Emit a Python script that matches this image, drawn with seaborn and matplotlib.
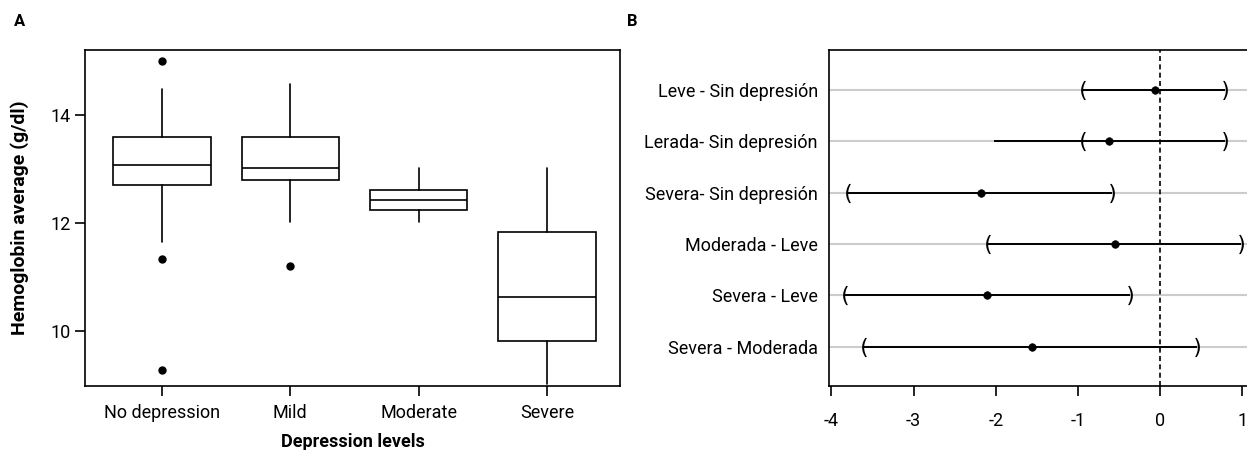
#Hemoglobin vs depression levels - two panel figure
#A: boxplots per depression level, B: pairwise differences with intervals

#-------------------------------------------IMPORTS----------------------------------------------------------------
import matplotlib.pyplot as plt
import pandas as pd
import seaborn as sns
from matplotlib import font_manager

#-------------------------------------------DATA-------------------------------------------------------------------
# panel A - box stats
levels = ['No depression', 'Mild', 'Moderate', 'Severe']
whislo = [11.66, 12.03, 12.03, 9.03]
q1 = [12.71, 12.79, 12.25, 9.83]
med = [13.07, 13.02, 12.42, 10.63]
q3 = [13.59, 13.59, 12.62, 11.84]
whishi = [14.47, 14.58, 13.02, 13.02]
fliers = [[15.0, 11.34, 9.28], [11.21], [], []]

# panel B - pairwise differences and their intervals
pairs = ['Leve - Sin depresión', 'Lerada- Sin depresión', 'Severa- Sin depresión',
         'Moderada - Leve', 'Severa - Leve', 'Severa - Moderada']
diff = [-0.06, -0.62, -2.18, -0.55, -2.11, -1.56]
lower = [-0.94, -0.94, -3.80, -2.09, -3.84, -3.61]
upper = [0.79, 0.79, -0.58, 0.99, -0.37, 0.45]
line_start = [-0.94, -2.02, -3.80, -2.09, -3.84, -3.61]  # row 2 line runs past its bracket

#-------------------------------------------STYLE------------------------------------------------------------------
sns.set_style('ticks')
installed = {f.name for f in font_manager.fontManager.ttflist}
fam = 'Liberation Sans Narrow' if 'Liberation Sans Narrow' in installed else 'Roboto'
plt.rcParams['font.family'] = [fam, 'DejaVu Sans']
plt.rcParams['axes.unicode_minus'] = False
plt.rcParams['axes.linewidth'] = 1.2
plt.rcParams['axes.edgecolor'] = 'black'
plt.rcParams['text.color'] = 'black'
plt.rcParams['axes.labelcolor'] = 'black'
plt.rcParams['xtick.color'] = 'black'
plt.rcParams['ytick.color'] = 'black'
plt.rcParams['xtick.major.width'] = 1.2
plt.rcParams['ytick.major.width'] = 1.2

fig = plt.figure(figsize=(12.47, 4.5), dpi=100)
axA = fig.add_axes([0.0682, 0.1422, 0.4290, 0.7467])
axB = fig.add_axes([0.6648, 0.1422, 0.3352, 0.7467])

#-------------------------------------------PANEL-A----------------------------------------------------------------
stats = []
for i in range(len(levels)):
    stats.append({'label': levels[i], 'whislo': whislo[i], 'q1': q1[i], 'med': med[i],
                  'q3': q3[i], 'whishi': whishi[i], 'fliers': fliers[i]})

line = dict(color='black', linewidth=1.2)
axA.bxp(stats, positions=range(len(levels)), widths=0.76, showcaps=False, patch_artist=True,
        boxprops=dict(facecolor='white', edgecolor='black', linewidth=1.2),
        medianprops=line, whiskerprops=line,
        flierprops=dict(marker='o', markerfacecolor='black', markeredgecolor='black', markersize=5))
axA.set_xlim(-0.6, 3.57)
axA.set_ylim(8.99, 15.2)
axA.set_yticks([10, 12, 14])
axA.tick_params(axis='y', length=7, pad=3, labelsize=13)
axA.tick_params(axis='x', length=7, pad=6, labelsize=13)
axA.set_xlabel('Depression levels', fontsize=13, fontweight='bold', labelpad=8)
axA.set_ylabel('Hemoglobin average (g/dl)', fontsize=14, fontweight='bold', labelpad=16)

#-------------------------------------------PANEL-B----------------------------------------------------------------
dfB = pd.DataFrame({'pair': pairs, 'diff': diff, 'lower': lower, 'upper': upper, 'start': line_start})
axB.set_axisbelow(True)
axB.yaxis.grid(True, color='#cccccc', linewidth=1.5)
sns.scatterplot(data=dfB, x='diff', y='pair', color='black', s=30, edgecolor='black', zorder=4, ax=axB)
axB.hlines(dfB['pair'], dfB['start'], dfB['upper'], color='black', linewidth=1.4, zorder=3)
sns.scatterplot(data=dfB, x='lower', y='pair', marker='$($', color='black', s=190, linewidth=0, zorder=3, ax=axB)
sns.scatterplot(data=dfB, x='upper', y='pair', marker='$)$', color='black', s=190, linewidth=0, zorder=3, ax=axB)
axB.axvline(0, color='black', linestyle=(0, (3, 2)), linewidth=1.2, zorder=3)
axB.set_xlim(-4.03, 1.057)
axB.set_ylim(5.77, -0.78)
axB.set_xticks([-4, -3, -2, -1, 0, 1])
axB.set_xlabel('')
axB.set_ylabel('')
axB.spines['right'].set_visible(False)
axB.tick_params(axis='y', length=0, pad=8, labelsize=13)
axB.tick_params(axis='x', length=7, pad=12, labelsize=13)

#-------------------------------------------LETTERS----------------------------------------------------------------
fig.text(0.011, 0.953, 'A', fontsize=12, fontweight='bold', va='center')
fig.text(0.503, 0.953, 'B', fontsize=12, fontweight='bold', va='center')

fig.savefig('out.png', dpi=100)
plt.close()
